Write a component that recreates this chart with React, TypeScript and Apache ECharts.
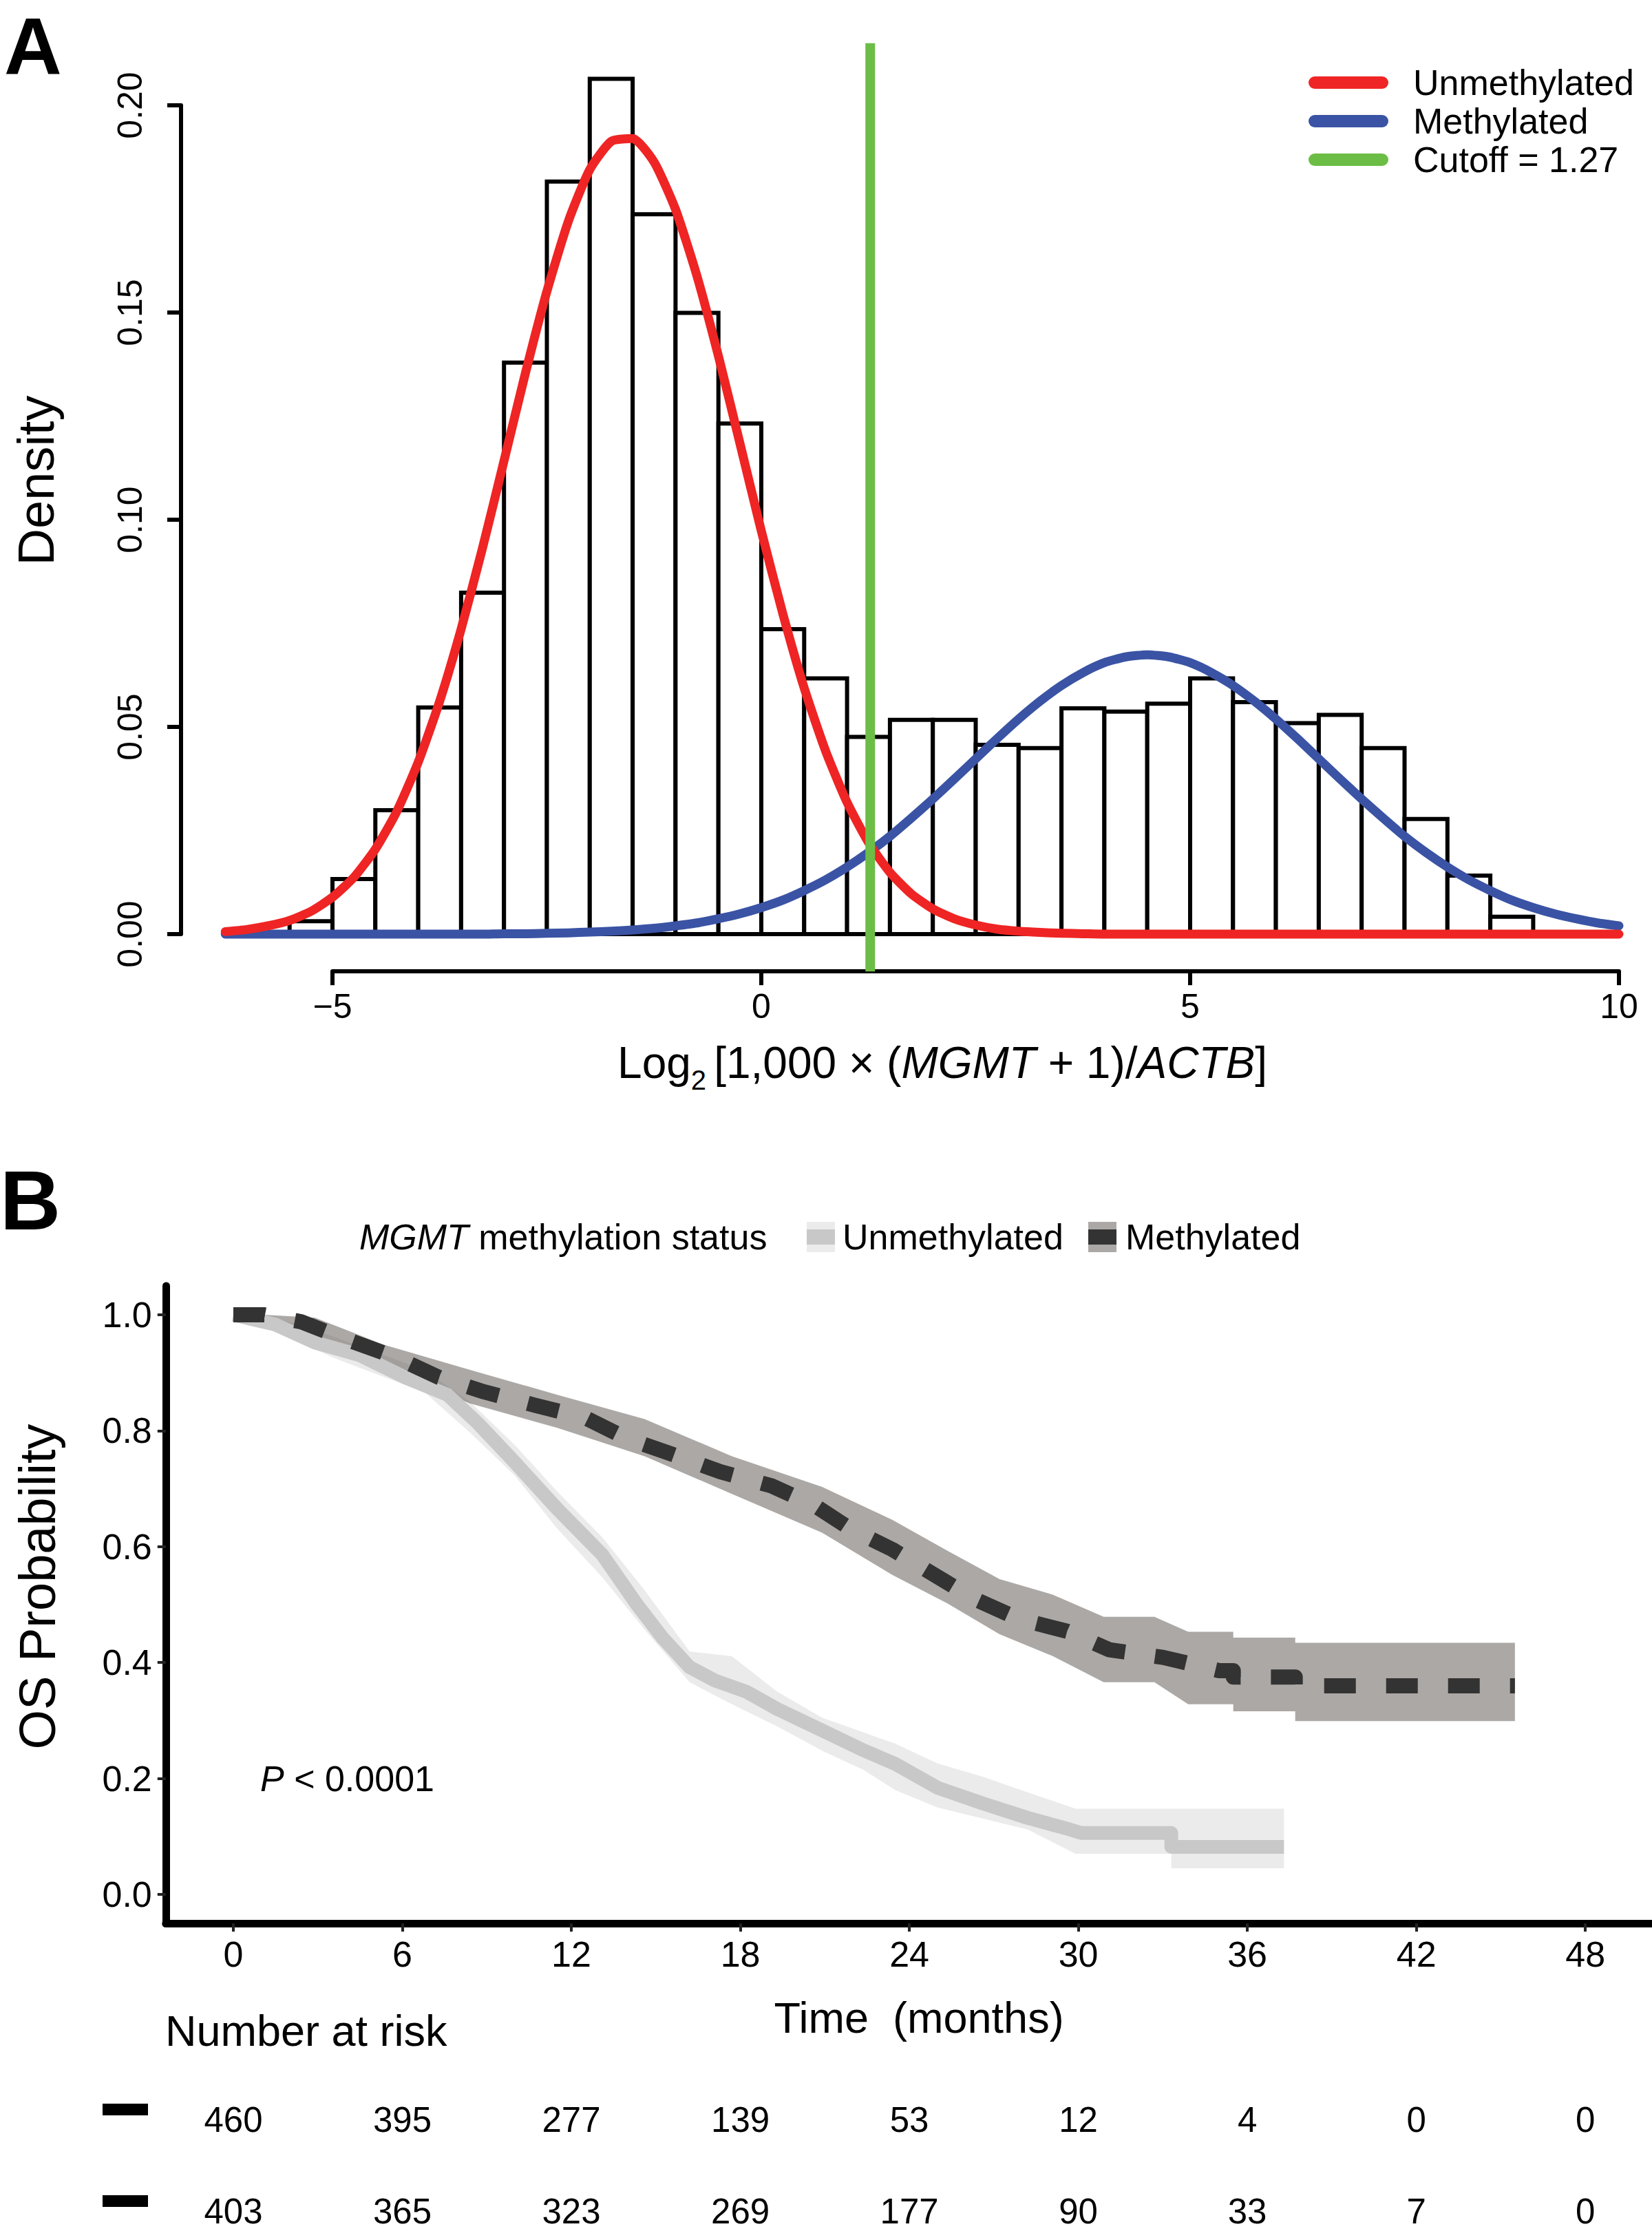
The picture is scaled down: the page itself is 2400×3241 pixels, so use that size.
import React, { useEffect, useRef } from "react";
import * as echarts from "echarts";

const FONT = "'Liberation Sans', Arial, Helvetica, sans-serif";

// ---------------- Panel A: histogram + mixture densities ----------------
const histBinLefts = [
  -5.5, -5, -4.5, -4, -3.5, -3, -2.5, -2, -1.5, -1, -0.5, 0, 0.5, 1, 1.5, 2,
  2.5, 3, 3.5, 4, 4.5, 5, 5.5, 6, 6.5, 7, 7.5, 8, 8.5,
];
const histBinWidth = 0.5;
const histDensity = [
  0.0031, 0.0133, 0.0299, 0.0547, 0.0824, 0.1379, 0.1816, 0.2064, 0.1737,
  0.1499, 0.1232, 0.0736, 0.0617, 0.0476, 0.0517, 0.0517, 0.0457, 0.0449,
  0.0545, 0.0537, 0.0556, 0.0617, 0.056, 0.0509, 0.0529, 0.0449, 0.0278,
  0.0141, 0.0042,
];
const curveX = [
  -6.25, -6, -5.75, -5.5, -5.25, -5, -4.75, -4.5, -4.25, -4, -3.75, -3.5, -3.25,
  -3, -2.75, -2.5, -2.25, -2, -1.75, -1.5, -1.25, -1, -0.75, -0.5, -0.25, 0,
  0.25, 0.5, 0.75, 1, 1.25, 1.5, 1.75, 2, 2.25, 2.5, 2.75, 3, 3.25, 3.5, 3.75,
  4, 4.25, 4.5, 4.75, 5, 5.25, 5.5, 5.75, 6, 6.25, 6.5, 6.75, 7, 7.25, 7.5,
  7.75, 8, 8.25, 8.5, 8.75, 9, 9.25, 9.5, 9.75, 10,
];
const unmethylatedDensity = [
  0.0006, 0.0011, 0.002, 0.0033, 0.0055, 0.0089, 0.0137, 0.0205, 0.0296,
  0.0415, 0.0562, 0.0736, 0.0932, 0.1142, 0.1354, 0.1551, 0.172, 0.1845,
  0.1913, 0.192, 0.1863, 0.1749, 0.1588, 0.1395, 0.1185, 0.0973, 0.0774,
  0.0594, 0.0442, 0.0318, 0.0221, 0.0149, 0.0097, 0.0061, 0.0037, 0.0022,
  0.0012, 0.0007, 0.0004, 0.0002, 0.0001, 0, 0, 0, 0, 0, 0, 0, 0, 0, 0, 0, 0,
  0, 0, 0, 0, 0, 0, 0, 0, 0, 0, 0, 0, 0,
];
const methylatedDensity = [
  0, 0, 0, 0, 0, 0, 0, 0, 0, 0, 0, 0, 0, 0.0001, 0.0001, 0.0002, 0.0003, 0.0005,
  0.0007, 0.001, 0.0014, 0.002, 0.0027, 0.0037, 0.0049, 0.0064, 0.0082, 0.0105,
  0.0131, 0.0162, 0.0197, 0.0236, 0.028, 0.0326, 0.0374, 0.0423, 0.0472,
  0.0519, 0.0562, 0.06, 0.0631, 0.0655, 0.0669, 0.0674, 0.0669, 0.0655,
  0.0631, 0.06, 0.0562, 0.0519, 0.0472, 0.0423, 0.0374, 0.0326, 0.028, 0.0236,
  0.0197, 0.0162, 0.0131, 0.0105, 0.0082, 0.0064, 0.0049, 0.0037, 0.0027,
  0.002,
];
const cutoffValue = 1.27;
const legendA = [
  { name: "Unmethylated", color: "#ee2524" },
  { name: "Methylated", color: "#3a53a4" },
  { name: "Cutoff = 1.27", color: "#6cbd45" },
];

// ---------------- Panel B: Kaplan-Meier ----------------
const kmUnmethTime = [
  0, 1.5, 2.9, 4.5, 6.1, 7.6, 8.7, 10.0, 11.5, 13.1, 14.3, 15.25, 16.2, 17.1,
  18.2, 19.3, 20.9, 22.4, 23.5, 25.0, 26.6, 28.2, 29.7, 30.1, 33.3, 33.3, 37.3,
];
const kmUnmethSurv = [
  1.0, 0.983, 0.952, 0.93, 0.892, 0.862, 0.812, 0.745, 0.665, 0.586, 0.502,
  0.442, 0.392, 0.369, 0.35, 0.32, 0.283, 0.248, 0.225, 0.184, 0.157, 0.132,
  0.112, 0.106, 0.106, 0.082, 0.082,
];
const ciUnmethTime = [
  0, 1.5, 3.7, 6.8, 8.4, 10.0, 11.5, 13.1, 14.6, 16.2, 17.7, 19.3, 20.9, 22.4,
  23.5, 25.0, 26.6, 28.2, 29.9, 33.3, 33.3, 37.3,
];
const ciUnmethUpper = [
  1.0, 0.995, 0.96, 0.904, 0.85, 0.775, 0.695, 0.616, 0.525, 0.419, 0.411,
  0.35, 0.305, 0.279, 0.26, 0.226, 0.203, 0.176, 0.148, 0.148, 0.148, 0.148,
];
const ciUnmethLower = [
  1.0, 0.97, 0.923, 0.866, 0.797, 0.722, 0.631, 0.547, 0.457, 0.366, 0.328,
  0.29, 0.248, 0.214, 0.18, 0.15, 0.131, 0.112, 0.07, 0.07, 0.045, 0.045,
];
const kmMethTime = [
  0, 1.1, 2.4, 4.1, 5.7, 7.3, 8.9, 10.7, 12.5, 14.0, 15.6, 17.3, 19.1, 20.6,
  21.9, 23.4, 24.9, 26.3, 27.9, 29.6, 31.1, 33.0, 35.0, 35.5, 35.5, 37.7, 37.7,
  45.5,
];
const kmMethSurv = [
  1.0, 1.0, 0.988, 0.956, 0.928, 0.892, 0.867, 0.844, 0.822, 0.786, 0.759,
  0.729, 0.705, 0.672, 0.631, 0.595, 0.551, 0.51, 0.475, 0.454, 0.422, 0.409,
  0.386, 0.386, 0.375, 0.375, 0.36, 0.36,
];
const ciMethTime = [
  0, 1.1, 2.9, 5.3, 8.4, 11.5, 14.6, 17.7, 20.9, 23.4, 25.35, 27.2, 29.1, 30.9,
  32.7, 33.9, 35.5, 35.5, 37.7, 37.7, 45.5,
];
const ciMethUpper = [
  1.0, 1.0, 0.995, 0.949, 0.905, 0.862, 0.82, 0.756, 0.703, 0.646, 0.593,
  0.544, 0.517, 0.479, 0.479, 0.453, 0.453, 0.443, 0.443, 0.434, 0.434,
];
const ciMethLower = [
  1.0, 0.985, 0.966, 0.911, 0.847, 0.805, 0.756, 0.691, 0.624, 0.551, 0.502,
  0.449, 0.411, 0.366, 0.366, 0.328, 0.328, 0.316, 0.316, 0.299, 0.299,
];
const timeTicks = [0, 6, 12, 18, 24, 30, 36, 42, 48];
const survTicks = [0, 0.2, 0.4, 0.6, 0.8, 1.0];
const riskRows = ["Unmethylated", "Methylated"];
const riskUnmeth = [460, 395, 277, 139, 53, 12, 4, 0, 0];
const riskMeth = [403, 365, 323, 269, 177, 90, 33, 7, 0];

// ---------------- layout (pixels) ----------------
const W = 2400;
const H = 3241;
const AX0 = 1106; // pixel of x = 0 in panel A
const AXU = 124.6; // pixels per unit
const AY0 = 1357; // pixel of density 0
const AYU = 6020; // pixels per density unit
const A_XMIN = -6.4;
const A_XMAX = 10.2;
const A_YMIN = -0.009;
const A_YMAX = 0.215;

const BX0 = 339; // pixel of time 0
const BXU = 40.92; // pixels per month
const BY0 = 2752; // pixel of survival 0
const BYU = 842; // pixels per survival unit
const B_XMIN = -2.4;
const B_XMAX = 50.4;
const B_YMIN = -0.05;
const B_YMAX = 1.05;

const RISK_TOP = 3012.5;
const RISK_H = 266;

const BLACK = "#000";

function bandRenderer(times: number[], upper: number[], lower: number[], fill: string) {
  return (params: any, api: any) => {
    if (params.dataIndex !== 0) return null;
    const pts: number[][] = [];
    for (let i = 0; i < times.length; i++) pts.push(api.coord([times[i], upper[i]]));
    for (let i = times.length - 1; i >= 0; i--) pts.push(api.coord([times[i], lower[i]]));
    return { type: "polygon", shape: { points: pts }, style: { fill }, silent: true };
  };
}

function buildOption(): any {
  const noAxis = { show: false };
  const gridBase = { containLabel: false, outerBoundsMode: "none" };

  const graphic: any[] = [];
  const txt = (o: any) => ({
    type: "text",
    silent: true,
    ...o,
    style: {
      fill: BLACK,
      fontFamily: FONT,
      ...o.style,
      textAlign: o.style.align,
      textVerticalAlign: o.style.verticalAlign,
    },
  });

  // panel letters
  graphic.push(txt({ x: 6, y: 68, style: { text: "A", fontSize: 116, fontWeight: "bold", align: "left", verticalAlign: "middle" } }));
  graphic.push(txt({ x: 0, y: 1744, style: { text: "B", fontSize: 122, fontWeight: "bold", align: "left", verticalAlign: "middle" } }));

  // panel A titles
  graphic.push(txt({ x: 52, y: 698, rotation: Math.PI / 2, style: { text: "Density", fontSize: 74, align: "center", verticalAlign: "middle" } }));
  graphic.push(
    txt({
      x: 1369,
      y: 1544,
      style: {
        text: "{n|Log}{s|2 }{n|[1,000 × (}{i|MGMT }{n|+ 1)/}{i|ACTB}{n|]}",
        align: "center",
        verticalAlign: "middle",
        rich: {
          n: { fontSize: 64, fontFamily: FONT, lineHeight: 90, fill: BLACK },
          i: { fontSize: 64, fontFamily: FONT, fontStyle: "italic", lineHeight: 90, fill: BLACK },
          s: { fontSize: 40, fontFamily: FONT, lineHeight: 40, verticalAlign: "bottom", fill: BLACK },
        },
      },
    })
  );

  // panel A legend
  legendA.forEach((l, i) => {
    const y = 120 + 56 * i;
    graphic.push({
      type: "line",
      silent: true,
      shape: { x1: 1910, y1: y, x2: 2008, y2: y },
      style: { stroke: l.color, lineWidth: 18, lineCap: "round" },
    });
    graphic.push(txt({ x: 2053, y, style: { text: l.name, fontSize: 52, align: "left", verticalAlign: "middle" } }));
  });

  // panel B legend
  graphic.push(
    txt({
      x: 522,
      y: 1797,
      style: {
        text: "{i|MGMT }{n|methylation status}",
        align: "left",
        verticalAlign: "middle",
        rich: {
          n: { fontSize: 52, fontFamily: FONT, fill: BLACK },
          i: { fontSize: 52, fontFamily: FONT, fontStyle: "italic", fill: BLACK },
        },
      },
    })
  );
  const keys = [
    { x: 1172, outer: "#ebebeb", inner: "#c8c8c8", label: "Unmethylated", tx: 1224 },
    { x: 1581, outer: "#aca8a5", inner: "#333333", label: "Methylated", tx: 1635 },
  ];
  keys.forEach((k) => {
    graphic.push({ type: "rect", silent: true, shape: { x: k.x, y: 1775, width: 41, height: 44 }, style: { fill: k.outer } });
    graphic.push({ type: "rect", silent: true, shape: { x: k.x, y: 1786, width: 41, height: 22 }, style: { fill: k.inner } });
    graphic.push(txt({ x: k.tx, y: 1797, style: { text: k.label, fontSize: 52, align: "left", verticalAlign: "middle" } }));
  });

  // panel B titles
  graphic.push(txt({ x: 54, y: 2305, rotation: Math.PI / 2, style: { text: "OS Probability", fontSize: 74, align: "center", verticalAlign: "middle" } }));
  graphic.push(txt({ x: 1335, y: 2931, style: { text: "Time\u00a0 (months)", fontSize: 63, align: "center", verticalAlign: "middle" } }));
  graphic.push(txt({ x: 240, y: 2950, style: { text: "Number at risk", fontSize: 63, align: "left", verticalAlign: "middle" } }));
  graphic.push(
    txt({
      x: 378,
      y: 2584,
      style: {
        text: "{i|P }{n|< 0.0001}",
        align: "left",
        verticalAlign: "middle",
        rich: {
          n: { fontSize: 52, fontFamily: FONT, fill: BLACK },
          i: { fontSize: 52, fontFamily: FONT, fontStyle: "italic", fill: BLACK },
        },
      },
    })
  );
  // risk table row markers (one per row, aligned with the row centres)
  const rowCentres = [RISK_TOP + RISK_H / 4, RISK_TOP + (3 * RISK_H) / 4];
  rowCentres.forEach((yc) => {
    graphic.push({ type: "rect", silent: true, shape: { x: 149, y: yc - 23, width: 66, height: 17 }, style: { fill: BLACK } });
  });

  const labelFont = { fontFamily: FONT, color: BLACK };

  return {
    animation: false,
    backgroundColor: "#fff",
    textStyle: { fontFamily: FONT },
    grid: [
      // 0: panel A data
      { ...gridBase, left: AX0 + AXU * A_XMIN, width: AXU * (A_XMAX - A_XMIN), top: AY0 - AYU * A_YMAX, height: AYU * (A_YMAX - A_YMIN) },
      // 1: panel A x-axis (-5..10)
      { ...gridBase, left: AX0 + AXU * -5, width: AXU * 15, top: AY0 - AYU * A_YMIN - 10, height: 10 },
      // 2: panel A y-axis (0..0.2)
      { ...gridBase, left: 263, width: 10, top: AY0 - AYU * 0.2, height: AYU * 0.2 },
      // 3: panel B KM
      { ...gridBase, left: BX0 + BXU * B_XMIN, width: BXU * (B_XMAX - B_XMIN), top: BY0 - BYU * B_YMAX, height: BYU * (B_YMAX - B_YMIN) },
      // 4: panel B risk table
      { ...gridBase, left: BX0 + BXU * B_XMIN, width: BXU * (B_XMAX - B_XMIN), top: RISK_TOP, height: RISK_H },
    ],
    xAxis: [
      { gridIndex: 0, type: "value", min: A_XMIN, max: A_XMAX, ...noAxis },
      {
        gridIndex: 1,
        type: "value",
        min: -5,
        max: 10,
        interval: 5,
        axisLine: { show: true, onZero: false, lineStyle: { color: BLACK, width: 6 } },
        axisTick: { show: true, length: 20, lineStyle: { color: BLACK, width: 6 } },
        axisLabel: { ...labelFont, fontSize: 50, margin: 26, formatter: (v: number) => String(v).replace("-", "\u2212") },
        splitLine: { show: false },
      },
      { gridIndex: 2, type: "value", min: 0, max: 1, ...noAxis },
      {
        gridIndex: 3,
        type: "value",
        min: B_XMIN,
        max: B_XMAX,
        axisLine: { show: true, onZero: false, lineStyle: { color: BLACK, width: 11 } },
        axisTick: { show: true, length: 12, customValues: timeTicks, lineStyle: { color: "#222", width: 4 } },
        axisLabel: { ...labelFont, fontSize: 52, margin: 19, customValues: timeTicks, formatter: (v: number) => String(v) },
        splitLine: { show: false },
      },
      { gridIndex: 4, type: "value", min: B_XMIN, max: B_XMAX, ...noAxis },
    ],
    yAxis: [
      { gridIndex: 0, type: "value", min: A_YMIN, max: A_YMAX, ...noAxis },
      { gridIndex: 1, type: "value", min: 0, max: 1, ...noAxis },
      {
        gridIndex: 2,
        type: "value",
        min: 0,
        max: 0.2,
        interval: 0.05,
        axisLine: { show: true, onZero: false, lineStyle: { color: BLACK, width: 6 } },
        axisTick: { show: true, length: 20, lineStyle: { color: BLACK, width: 6 } },
        axisLabel: { ...labelFont, fontSize: 50, margin: 49, rotate: 90, formatter: (v: number) => v.toFixed(2) },
        splitLine: { show: false },
      },
      {
        gridIndex: 3,
        type: "value",
        min: B_YMIN,
        max: B_YMAX,
        axisLine: { show: true, onZero: false, lineStyle: { color: BLACK, width: 11 } },
        axisTick: { show: true, length: 12, customValues: survTicks, lineStyle: { color: "#222", width: 4 } },
        axisLabel: { ...labelFont, fontSize: 52, margin: 20, customValues: survTicks, formatter: (v: number) => v.toFixed(1) },
        splitLine: { show: false },
      },
      { gridIndex: 4, type: "category", data: riskRows, inverse: true, ...noAxis },
    ],
    series: [
      {
        type: "custom",
        name: "Histogram",
        xAxisIndex: 0,
        yAxisIndex: 0,
        data: histBinLefts.map((l, i) => [l, l + histBinWidth, histDensity[i]]),
        encode: { x: [0, 1], y: 2 },
        renderItem: (params: any, api: any) => {
          const p0 = api.coord([api.value(0), api.value(2)]);
          const p1 = api.coord([api.value(1), 0]);
          return {
            type: "rect",
            shape: { x: p0[0], y: p0[1], width: p1[0] - p0[0], height: p1[1] - p0[1] },
            style: { fill: "#fff", stroke: BLACK, lineWidth: 6 },
          };
        },
      },
      {
        type: "line",
        name: "Methylated",
        xAxisIndex: 0,
        yAxisIndex: 0,
        data: curveX.map((x, i) => [x, methylatedDensity[i]]),
        smooth: 0.2,
        symbol: "none",
        lineStyle: { color: legendA[1].color, width: 13, cap: "round", join: "round" },
      },
      {
        type: "line",
        name: "Unmethylated",
        xAxisIndex: 0,
        yAxisIndex: 0,
        data: curveX.map((x, i) => [x, unmethylatedDensity[i]]),
        smooth: 0.2,
        symbol: "none",
        lineStyle: { color: legendA[0].color, width: 13, cap: "round", join: "round" },
      },
      {
        type: "line",
        name: "Cutoff = 1.27",
        xAxisIndex: 0,
        yAxisIndex: 0,
        data: [
          [cutoffValue, A_YMIN],
          [cutoffValue, A_YMAX],
        ],
        symbol: "none",
        lineStyle: { color: legendA[2].color, width: 14 },
      },
      // ---- panel B ----
      {
        type: "custom",
        name: "Unmethylated CI",
        xAxisIndex: 3,
        yAxisIndex: 3,
        data: ciUnmethTime.map((t, i) => [t, ciUnmethUpper[i], ciUnmethLower[i]]),
        encode: { x: 0, y: [1, 2] },
        renderItem: bandRenderer(ciUnmethTime, ciUnmethUpper, ciUnmethLower, "#ebebeb"),
      },
      {
        type: "line",
        name: "Unmethylated KM",
        xAxisIndex: 3,
        yAxisIndex: 3,
        data: kmUnmethTime.map((t, i) => [t, kmUnmethSurv[i]]),
        symbol: "none",
        lineStyle: { color: "#c8c8c8", width: 20, join: "round", cap: "butt" },
      },
      {
        type: "custom",
        name: "Methylated CI",
        xAxisIndex: 3,
        yAxisIndex: 3,
        data: ciMethTime.map((t, i) => [t, ciMethUpper[i], ciMethLower[i]]),
        encode: { x: 0, y: [1, 2] },
        renderItem: bandRenderer(ciMethTime, ciMethUpper, ciMethLower, "rgba(89,81,75,0.5)"),
      },
      {
        type: "line",
        name: "Methylated KM",
        xAxisIndex: 3,
        yAxisIndex: 3,
        data: kmMethTime.map((t, i) => [t, kmMethSurv[i]]),
        symbol: "none",
        lineStyle: { color: "#333333", width: 22, type: [46, 44], join: "round", cap: "butt" },
      },
      {
        type: "custom",
        name: "Number at risk",
        xAxisIndex: 4,
        yAxisIndex: 4,
        data: [
          ...timeTicks.map((t, i) => [t, 0, riskUnmeth[i]]),
          ...timeTicks.map((t, i) => [t, 1, riskMeth[i]]),
        ],
        encode: { x: 0, y: 1 },
        renderItem: (params: any, api: any) => {
          const p = api.coord([api.value(0), api.value(1)]);
          return {
            type: "text",
            x: p[0],
            y: p[1],
            style: {
              text: String(api.value(2)),
              fontSize: 51,
              fontFamily: FONT,
              fill: BLACK,
              align: "center",
              verticalAlign: "middle",
              textAlign: "center",
              textVerticalAlign: "middle",
            },
          };
        },
      },
    ],
    graphic,
  };
}

export default function App() {
  const ref = useRef<HTMLDivElement>(null);
  useEffect(() => {
    if (!ref.current) return;
    const chart = echarts.init(ref.current, null, { renderer: "svg" });
    chart.setOption(buildOption());
    return () => chart.dispose();
  }, []);
  return (
    <div
      ref={ref}
      style={{ position: "absolute", left: 0, top: 0, width: W, height: H, background: "#fff" }}
    />
  );
}
